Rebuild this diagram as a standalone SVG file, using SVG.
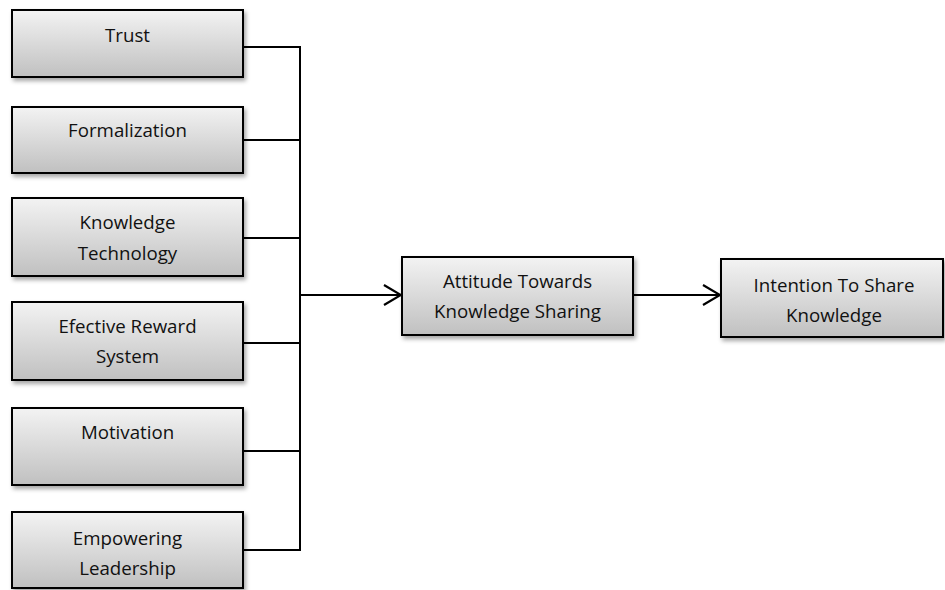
<svg xmlns="http://www.w3.org/2000/svg" width="945" height="590" viewBox="0 0 945 590">
  <defs>
    <linearGradient id="boxFill" x1="0" y1="0" x2="0" y2="1">
      <stop offset="0" stop-color="#f3f3f3"/>
      <stop offset="1" stop-color="#c0c0c0"/>
    </linearGradient>
    <filter id="shadow" x="-10%" y="-10%" width="125%" height="135%">
      <feDropShadow dx="2" dy="3" stdDeviation="2" flood-color="#000" flood-opacity="0.35"/>
    </filter>
    <marker id="chevron" viewBox="0 0 20 24" refX="18" refY="12" markerWidth="20" markerHeight="24" markerUnits="userSpaceOnUse" orient="auto">
      <path d="M1,2 L18,12 L1,22" fill="none" stroke="#000" stroke-width="2.2"/>
    </marker>
  </defs>
  <style>
    .box { fill: url(#boxFill); stroke: #000; stroke-width: 2; filter: url(#shadow); }
    .label { font-family: "Open Sans", "Liberation Sans", sans-serif; font-size: 18.7px; fill: #111; text-anchor: middle; }
    .wire { fill: none; stroke: #000; stroke-width: 2; }
  </style>

  <rect width="945" height="590" fill="#fff"/>

  <g id="connectors">
    <path class="wire" d="M243,47 H300 M243,140 H300 M243,238 H300 M243,343 H300 M243,451 H300 M243,550 H300 M300,46 V551"/>
    <line class="wire" x1="300" y1="295" x2="401" y2="295" marker-end="url(#chevron)"/>
    <line class="wire" x1="633" y1="295" x2="720" y2="295" marker-end="url(#chevron)"/>
  </g>

  <g id="trust">
    <rect class="box" x="12" y="10" width="231" height="67"/>
    <text class="label" x="127.5" y="42">Trust</text>
  </g>
  <g id="formalization">
    <rect class="box" x="12" y="107" width="231" height="66"/>
    <text class="label" x="127.5" y="137">Formalization</text>
  </g>
  <g id="knowledge-technology">
    <rect class="box" x="12" y="198" width="231" height="78"/>
    <text class="label" x="127.5" y="229">Knowledge</text>
    <text class="label" x="127.5" y="260">Technology</text>
  </g>
  <g id="reward-system">
    <rect class="box" x="12" y="302" width="231" height="78"/>
    <text class="label" x="127.5" y="333">Efective Reward</text>
    <text class="label" x="127.5" y="363">System</text>
  </g>
  <g id="motivation">
    <rect class="box" x="12" y="408" width="231" height="77"/>
    <text class="label" x="127.5" y="439">Motivation</text>
  </g>
  <g id="empowering-leadership">
    <rect class="box" x="12" y="512" width="231" height="76"/>
    <text class="label" x="127.5" y="545">Empowering</text>
    <text class="label" x="127.5" y="575">Leadership</text>
  </g>
  <g id="attitude">
    <rect class="box" x="402" y="257" width="231" height="78"/>
    <text class="label" x="517.5" y="288">Attitude Towards</text>
    <text class="label" x="517.5" y="318">Knowledge Sharing</text>
  </g>
  <g id="intention">
    <rect class="box" x="721" y="259" width="222" height="78"/>
    <text class="label" x="834" y="292">Intention To Share</text>
    <text class="label" x="834" y="322">Knowledge</text>
  </g>
</svg>
